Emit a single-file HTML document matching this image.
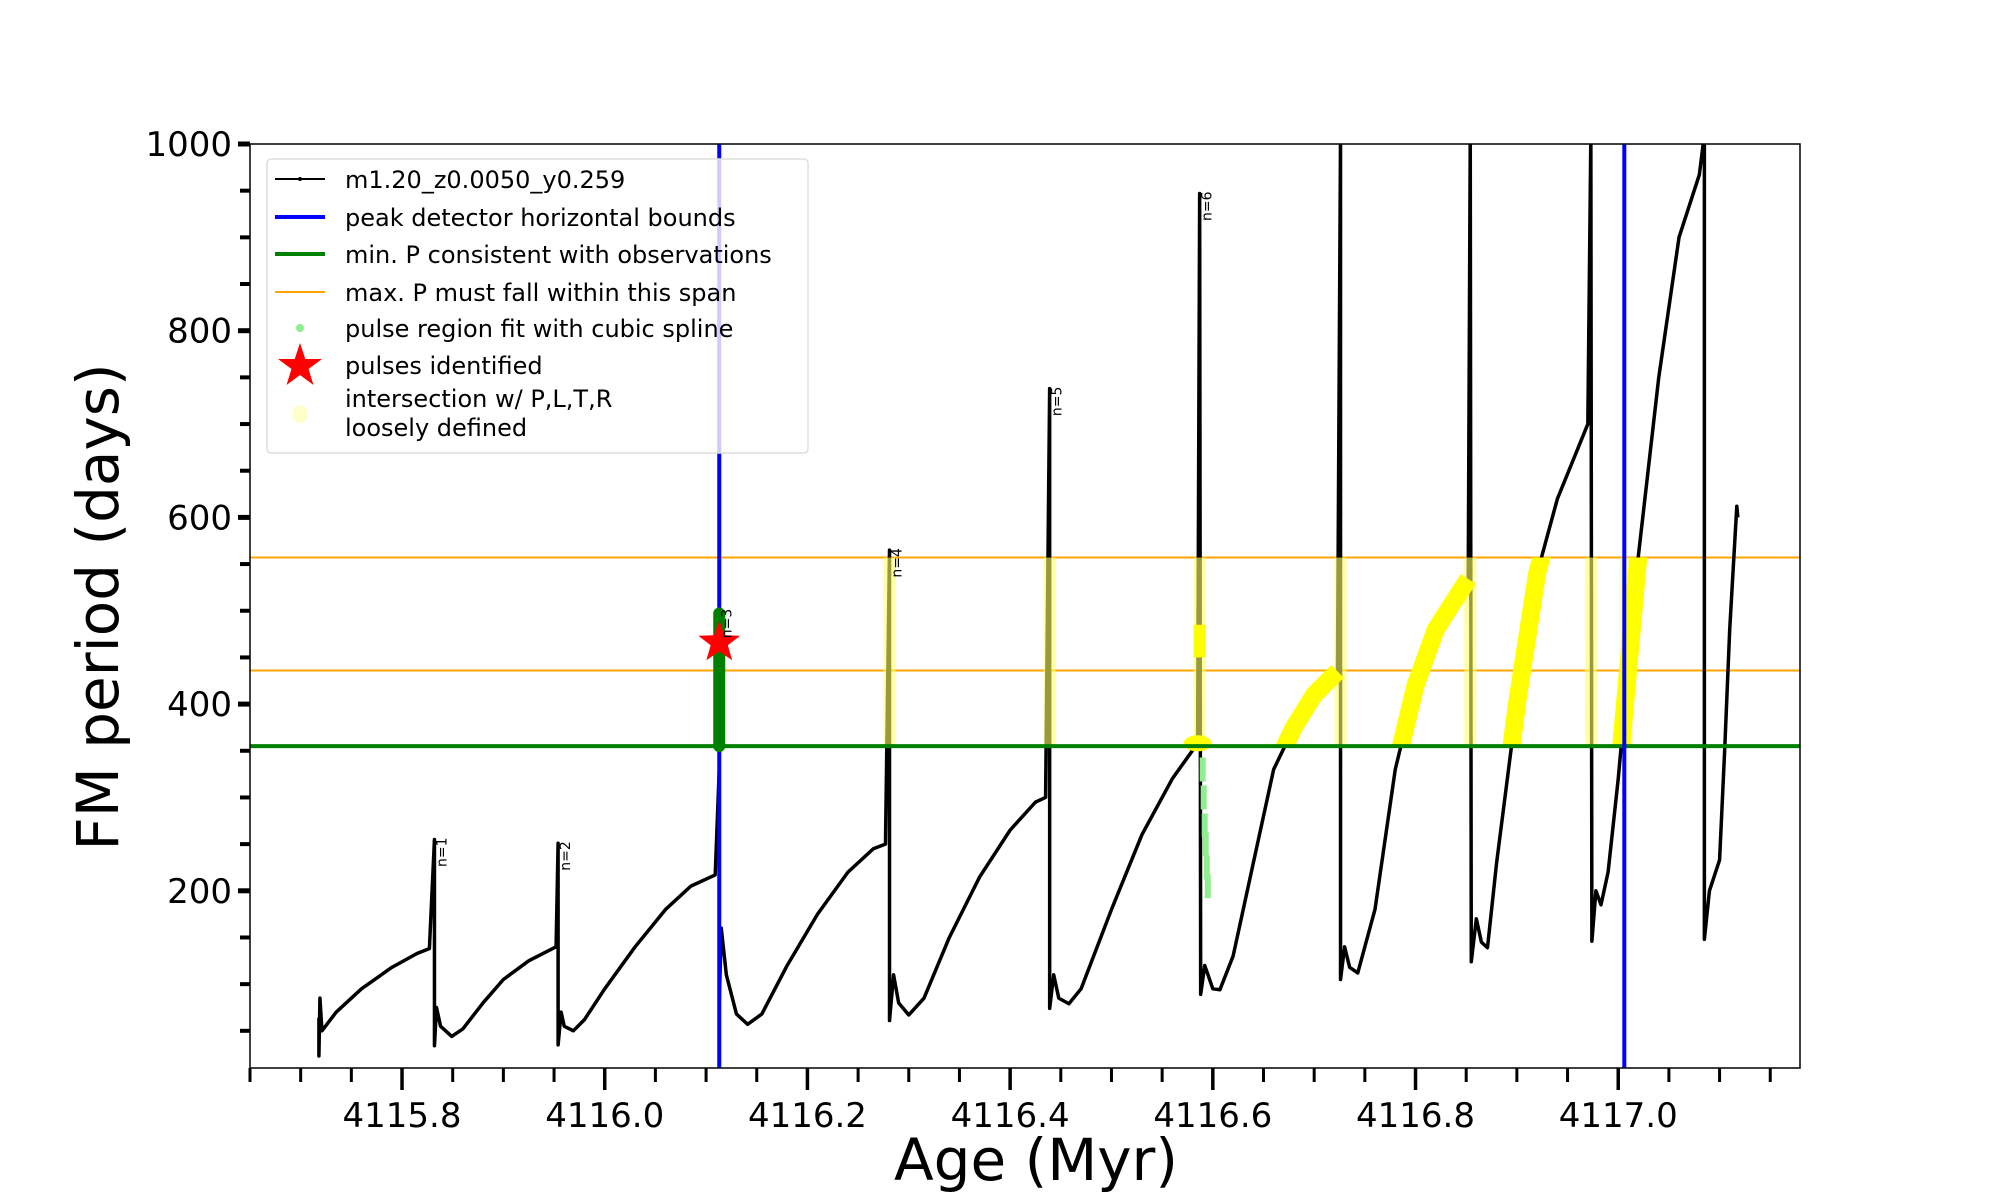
<!DOCTYPE html>
<html><head><meta charset="utf-8"><style>
html,body{margin:0;padding:0;background:#fff;}
svg{display:block;font-family:"DejaVu Sans","Liberation Sans",sans-serif;}
</style></head><body>
<svg id="chart" width="2000" height="1200" viewBox="0 0 2000 1200" xmlns="http://www.w3.org/2000/svg">
<defs><clipPath id="plotclip"><rect x="250" y="144" width="1550" height="924"/></clipPath></defs>
<rect x="0" y="0" width="2000" height="1200" fill="#fff"/>
<g id="marks" clip-path="url(#plotclip)"></g>
<rect x="250" y="144" width="1550" height="924" fill="none" stroke="#000" stroke-width="1.5"/>
<g id="axes"></g>
<text x="1036" y="1180" font-size="58" text-anchor="middle">Age (Myr)</text>
<text transform="translate(118,607) rotate(-90)" font-size="58" text-anchor="middle">FM period (days)</text>
<g>
<rect x="267" y="159" width="541" height="294" rx="4" fill="#fff" fill-opacity="0.8" stroke="#ddd" stroke-width="1.5"/>
<line x1="275" y1="179" x2="325" y2="179" stroke="#000" stroke-width="2"/><circle cx="300" cy="179" r="2" fill="#000"/>
<text x="345" y="188" font-size="24">m1.20_z0.0050_y0.259</text>
<line x1="275" y1="217" x2="325" y2="217" stroke="#0000ff" stroke-width="4"/>
<text x="345" y="226" font-size="24">peak detector horizontal bounds</text>
<line x1="275" y1="254" x2="325" y2="254" stroke="#008000" stroke-width="4"/>
<text x="345" y="263" font-size="24">min. P consistent with observations</text>
<line x1="275" y1="292" x2="325" y2="292" stroke="orange" stroke-width="2"/>
<text x="345" y="301" font-size="24">max. P must fall within this span</text>
<circle cx="300" cy="328" r="4" fill="lightgreen"/>
<text x="345" y="337" font-size="24">pulse region fit with cubic spline</text>
<polygon points="300,343 305.3,359 322,359 308.5,369 313.5,385 300,375 286.5,385 291.5,369 278,359 294.7,359" fill="red"/>
<text x="345" y="374" font-size="24">pulses identified</text>
<ellipse cx="300" cy="414" rx="8" ry="9" fill="#ffffaa" fill-opacity="0.6"/>
<text x="345" y="407" font-size="24">intersection w/ P,L,T,R</text>
<text x="345" y="436" font-size="24">loosely defined</text>
</g>
</svg>
<script>
const xTicks = [4115.8, 4116.0, 4116.2, 4116.4, 4116.6, 4116.8, 4117.0];
const xTickLabels = ["4115.8","4116.0","4116.2","4116.4","4116.6","4116.8","4117.0"];
const yTicks = [200, 400, 600, 800, 1000];
const yTickLabels = ["200","400","600","800","1000"];
const ages = [4115.718,4115.718,4115.719,4115.721,4115.735,4115.76,4115.79,4115.815,4115.827,4115.832,4115.832,4115.834,4115.838,4115.849,4115.86,4115.88,4115.90,4115.925,4115.952,4115.954,4115.954,4115.957,4115.96,4115.969,4115.98,4116.0,4116.03,4116.06,4116.085,4116.109,4116.113,4116.113,4116.115,4116.12,4116.13,4116.141,4116.155,4116.18,4116.21,4116.24,4116.265,4116.277,4116.281,4116.281,4116.285,4116.29,4116.3,4116.315,4116.34,4116.37,4116.40,4116.425,4116.435,4116.439,4116.439,4116.443,4116.448,4116.458,4116.47,4116.50,4116.53,4116.56,4116.585,4116.587,4116.588,4116.592,4116.6,4116.607,4116.62,4116.64,4116.66,4116.68,4116.70,4116.723,4116.726,4116.726,4116.73,4116.735,4116.743,4116.76,4116.78,4116.80,4116.82,4116.852,4116.854,4116.855,4116.86,4116.865,4116.871,4116.88,4116.90,4116.92,4116.94,4116.97,4116.973,4116.974,4116.978,4116.983,4116.99,4117.0,4117.02,4117.04,4117.06,4117.08,4117.085,4117.085,4117.09,4117.10,4117.105,4117.11,4117.117,4117.118];
const periods = [64,23,85,50,70,95,118,133,138,255,34,75,55,44,52,80,105,125,140,251,35,70,55,50,62,95,140,180,205,217,330,80,160,110,68,57,68,120,175,220,245,250,565,61,110,80,67,85,150,215,265,295,300,738,74,110,85,79,95,180,260,320,358,947,89,120,95,94,130,230,330,375,410,435,1010,105,140,118,112,180,330,420,480,534,1010,124,170,145,139,230,400,540,620,700,1010,146,200,185,220,320,560,750,900,967,1010,148,200,233,350,480,612,600];
const blueBounds = [4116.113, 4117.006];
const minP = [355];
const maxPSpan = [436, 557];
const yellowStart = [4116.64, 4116.76, 4116.871, 4116.99];
const yellowEnd = [4116.723, 4116.852, 4116.94, 4117.02];
const spikeAges = [4116.281, 4116.439, 4116.587, 4116.726, 4116.854, 4116.973, 4117.008];
const pulseAge = [4116.113];
const pulseRange = [355, 497];
const starPoint = [4116.113, 466];
const greenDotsAge = [4116.590, 4116.591, 4116.592, 4116.593, 4116.594, 4116.595];
const greenDotsP = [330, 300, 270, 250, 225, 205];
const nLabels = ["n=1","n=2","n=3","n=4","n=5","n=6"];
const nAges = [4115.832, 4115.954, 4116.113, 4116.281, 4116.439, 4116.587];
const nPeriods = [255, 251, 500, 565, 738, 947];

const X = a => 250 + (a - 4115.650) * 1013.5;
const Y = v => 144 + (1000 - v) * 0.9335;
const NS = "http://www.w3.org/2000/svg";
const marks = document.getElementById('marks');
const axes = document.getElementById('axes');
function mk(tag, attrs, parent){const e=document.createElementNS(NS,tag);for(const k in attrs)e.setAttribute(k,attrs[k]);parent.appendChild(e);return e;}

for (const v of maxPSpan){
  const l = mk('line',{x1:250,x2:1800,y1:Y(v),y2:Y(v),stroke:'orange','stroke-width':2},marks);
  
  
}
const ptsStr = ages.map((a,i)=>X(a)+','+Y(periods[i])).join(' ');
const curve = mk('polyline',{points:ptsStr,fill:'none',stroke:'#000','stroke-width':3.5,'stroke-linejoin':'round'},marks);



for (const a of spikeAges){
  const r = mk('rect',{x:X(a)-6,y:Y(maxPSpan[1]),width:12,height:Y(minP[0])-Y(maxPSpan[1]),fill:'#ffff66','fill-opacity':0.6},marks);
  
  
}
const yc = mk('clipPath',{id:'yclip'},marks);
mk('rect',{x:250,y:Y(maxPSpan[1]),width:1550,height:Y(minP[0])-Y(maxPSpan[1])},yc);
yellowStart.forEach((s,k)=>{
  const e = yellowEnd[k];
  const pts = ages.map((a,i)=>[a,periods[i]]).filter(p=>p[0]>=s-1e-9 && p[0]<=e+1e-9).map(p=>X(p[0])+','+Y(p[1])).join(' ');
  const yl = mk('polyline',{points:pts,fill:'none',stroke:'#ffff00','stroke-width':18,'clip-path':'url(#yclip)','stroke-linejoin':'round'},marks);
  
  
});
const blob = mk('ellipse',{cx:X(4116.585),cy:Y(358),rx:14,ry:8,fill:'#ffff00'},marks);


const blob2 = mk('rect',{x:X(4116.587)-6,y:Y(485),width:12,height:Y(450)-Y(485),fill:'#ffff00'},marks);



const gl = mk('line',{x1:250,x2:1800,y1:Y(minP[0]),y2:Y(minP[0]),stroke:'#008000','stroke-width':4},marks);



for (const a of blueBounds){
  const b = mk('line',{x1:X(a),x2:X(a),y1:144,y2:1068,stroke:'#0000ff','stroke-width':4},marks);
  
  
}
for (const a of pulseAge){
  const p = mk('line',{x1:X(a),x2:X(a),y1:Y(pulseRange[1]),y2:Y(pulseRange[0]),stroke:'#008000','stroke-width':12,'stroke-linecap':'round'},marks);
  
  
}
greenDotsAge.forEach((a,i)=>{
  const d = mk('rect',{x:X(a)-3,y:Y(greenDotsP[i])-12,width:6,height:24,fill:'lightgreen'},marks);
  
  
});
{
  const cx=X(starPoint[0]), cy=Y(starPoint[1]); let pts=[];
  for(let k=0;k<10;k++){const r=k%2?9:22;const t=-Math.PI/2+k*Math.PI/5;pts.push((cx+r*Math.cos(t))+','+(cy+r*Math.sin(t)));}
  const s = mk('polygon',{points:pts.join(' '),fill:'red'},marks);
  
  
}
nLabels.forEach((t,i)=>{
  const x=X(nAges[i])+12, y=Y(nPeriods[i])-2;
  const e = mk('text',{transform:`translate(${x},${y}) rotate(-90)`,'font-size':14,'text-anchor':'end'},marks);
  e.textContent=t;
  
  
});

for (let a=4115.65; a<=4117.18; a+=0.05){
  const major = xTicks.some(t=>Math.abs(t-a)<1e-6);
  const tk = mk('line',{x1:X(a),x2:X(a),y1:1068,y2:1068+(major?22:14),stroke:'#000','stroke-width':major?3.5:3},axes);
  
  
}
xTicks.forEach((t,i)=>{
  const e = mk('text',{x:X(t),y:1127,'font-size':34,'text-anchor':'middle'},axes);
  e.textContent=xTickLabels[i];
  
  
});
for (let v=50; v<=1000; v+=50){
  const major = yTicks.includes(v);
  const tk = mk('line',{x1:250-(major?12:10),x2:250,y1:Y(v),y2:Y(v),stroke:'#000','stroke-width':major?5:4},axes);
  
  
}
yTicks.forEach((v,i)=>{
  const e = mk('text',{x:232,y:Y(v)+12,'font-size':34,'text-anchor':'end'},axes);
  e.textContent=yTickLabels[i];
  
  
});
</script>
</body></html>
